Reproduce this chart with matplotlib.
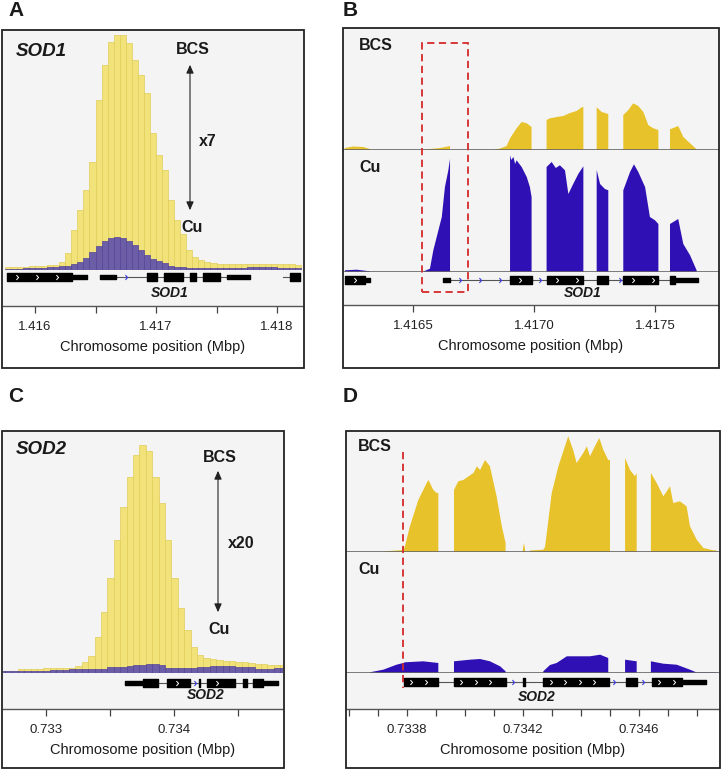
import numpy as np
import matplotlib
matplotlib.use('Agg')
import matplotlib.pyplot as plt
from matplotlib.patches import Rectangle, FancyArrowPatch
from matplotlib.path import Path
from matplotlib.ticker import MultipleLocator, FormatStrFormatter
from matplotlib.transforms import blended_transform_factory

plt.rcParams['font.family'] = ['Liberation Sans', 'DejaVu Sans']

W, H = 722, 776

# ---------------- data ----------------
bin_w = 0.00005  # 50 bp bins (Mbp)

# A: SOD1 locus, binned coverage
sod1_bin_start = 1.41575
sod1_bcs = [3, 3, 3, 3.5, 4, 4, 4.5, 5, 5.5, 8,
            17, 40, 60, 80, 108, 170, 205, 228, 235, 235,
            227, 210, 195, 177, 137, 115, 100, 70, 50, 36,
            20, 13, 10, 8, 7, 6.5, 6, 6, 6, 6,
            6, 6, 6.5, 6.5, 6, 6, 6.5, 6, 5.5]
sod1_cu = [1, 1.2, 1.5, 1.8, 2, 2.3, 2.5, 2.7, 3.2, 3.8,
           4.3, 6, 8, 11.7, 17.7, 24, 29, 32.5, 33, 32,
           29, 25, 20, 15, 11, 9, 6.7, 4, 3.3, 3,
           2.5, 2.5, 2.5, 2.5, 2.5, 2.5, 2.5, 2.5, 2.5, 2.5,
           2.7, 2.7, 2.7, 2.7, 2.7, 2.5, 2.5, 2.2, 2]

# C: SOD2 locus, binned coverage
sod2_bin_start = 0.73263
sod2_bcs = [2.3, 2.3, 2.3, 4, 4, 4, 4, 5, 5, 5,
            5, 5, 6.7, 10.7, 17, 36, 61, 95, 133, 166,
            196, 218, 228, 222, 196, 170, 133, 95, 65, 43,
            26, 18, 15, 14, 13, 12, 12, 11, 11, 10,
            9, 9, 8, 8, 8]
sod2_cu = [1.7, 1.7, 1.7, 2.3, 2.3, 2.3, 2.3, 2.3, 3.3, 3.3,
           3.3, 4, 4, 4, 4, 4, 4, 6, 6, 6,
           7, 8.5, 8.5, 9.5, 9, 8, 5, 5, 5, 5,
           5.5, 6.3, 6.3, 7, 7, 7, 7, 5.7, 5.7, 5.7,
           4, 4, 4, 5, 5]

# B: SOD1 read coverage, per covered segment (position Mbp, depth)
sod1_rna_bcs = [
    ([1.416219, 1.416253, 1.416295, 1.416322], [2, 3.5, 3, 1]),
    ([1.416543, 1.416570, 1.416612, 1.416653], [0.3, 1, 2, 4]),
    ([1.416832, 1.416860, 1.416887, 1.416901, 1.416928, 1.416949, 1.416970, 1.416990],
     [0.3, 1.5, 4, 11.7, 21.7, 28, 26.7, 23]),
    ([1.417052, 1.417066, 1.417094, 1.417121, 1.417149, 1.417176, 1.417197, 1.417204],
     [30, 31.7, 33, 34, 37, 39, 42.7, 43]),
    ([1.417259, 1.417280, 1.417307], [42.7, 38, 36]),
    ([1.417369, 1.417390, 1.417410, 1.417431, 1.417452, 1.417472, 1.417493, 1.417514],
     [35, 40, 46.7, 44, 38, 25, 21.7, 20]),
    ([1.417562, 1.417596, 1.417617, 1.417645, 1.417672], [20.7, 24, 13, 6.7, 0.7]),
]
sod1_rna_cu = [
    ([1.416219, 1.416267, 1.416322], [1.7, 2.3, 0.7]),
    ([1.416543, 1.416570, 1.416584, 1.416598, 1.416619, 1.416632, 1.416646, 1.416653],
     [0.5, 3.3, 21.7, 35, 55, 85, 101.7, 113]),
    ([1.416901, 1.416906, 1.416915, 1.416922, 1.416928, 1.416949, 1.416970, 1.416983, 1.416990],
     [116.7, 112, 115, 108, 111.7, 105, 95, 85, 75]),
    ([1.417052, 1.417073, 1.417090, 1.417107, 1.417128, 1.417142, 1.417162, 1.417183, 1.417204],
     [105, 110, 104, 106.7, 101.7, 78, 88, 98, 105.7]),
    ([1.417259, 1.417273, 1.417293, 1.417307], [102, 88, 83, 81.7]),
    ([1.417369, 1.417397, 1.417413, 1.417431, 1.417459, 1.417479, 1.417500, 1.417514],
     [81.7, 100, 107.7, 100, 85, 55, 51.7, 48]),
    ([1.417562, 1.417596, 1.417617, 1.417645, 1.417672], [48, 53, 28, 16.7, 1.7]),
]

# D: SOD2 read coverage
sod2_rna_bcs = [
    ([0.733718, 0.733764, 0.733787, 0.733793, 0.733810, 0.733839, 0.733868, 0.733874,
      0.733891, 0.733902, 0.733908],
     [0.5, 1.5, 2, 5.7, 25.7, 52, 69, 72, 62, 59, 59]),
    ([0.733962, 0.733977, 0.733994, 0.734029, 0.734041, 0.734052, 0.734069, 0.734086,
      0.734109, 0.734127, 0.734140],
     [62, 70.7, 72, 79, 85.7, 82, 92, 85.7, 55.7, 25.7, 9]),
    ([0.734199, 0.734203, 0.734207], [1, 9, 3]),
    ([0.734224, 0.734270, 0.734276, 0.734282, 0.734299, 0.734322, 0.734356, 0.734373,
      0.734385, 0.734408, 0.734420, 0.734431, 0.734448, 0.734463, 0.734477, 0.734494, 0.734500],
     [1.5, 2.3, 5, 19, 59, 85.7, 115.7, 102, 89, 99, 105.7, 95.7, 105.7, 114, 102, 92, 92]),
    ([0.734552, 0.734569, 0.734586, 0.734592], [94, 82, 75.7, 79]),
    ([0.734641, 0.734661, 0.734684, 0.734707, 0.734718, 0.734741, 0.734764, 0.734776,
      0.734799, 0.734822, 0.734856, 0.734867],
     [79, 69, 55.7, 65.7, 49, 50.7, 45.7, 25.7, 12.3, 4, 1.7, 1.7]),
]
sod2_rna_cu = [
    ([0.733672, 0.733718, 0.733764, 0.733787, 0.733793, 0.733856, 0.733908],
     [0.7, 3.3, 8.3, 10, 10.7, 11.7, 10]),
    ([0.733962, 0.734017, 0.734052, 0.734086, 0.734121, 0.734140],
     [11.7, 13.3, 14, 11.7, 6.7, 1.7]),
    ([0.734270, 0.734293, 0.734316, 0.734351, 0.734385, 0.734431, 0.734466, 0.734494],
     [1.7, 8, 10, 16.7, 16.7, 16.7, 18.3, 15]),
    ([0.734552, 0.734592], [13.3, 11.7]),
    ([0.734641, 0.734684, 0.734730, 0.734776, 0.734799, 0.734867],
     [11.7, 9.3, 8.3, 3.3, 0.5, 0.5]),
]

# gene models (start, end) in Mbp
sod1_wide_thick = [(1.415769, 1.416306), (1.416926, 1.417008), (1.417066, 1.417223),
                   (1.417281, 1.417331), (1.417388, 1.417529), (1.418107, 1.418190)]
sod1_wide_thin = [(1.416306, 1.416430), (1.416537, 1.416669), (1.417587, 1.417777)]
sod1_wide_lines = [(1.416669, 1.417587), (1.418050, 1.418190)]

sod1_thick = [(1.416219, 1.416302), (1.416901, 1.416990), (1.417052, 1.417204),
              (1.417259, 1.417307), (1.417369, 1.417514), (1.417562, 1.417583)]
sod1_thin = [(1.416302, 1.416322), (1.416626, 1.416653), (1.417583, 1.417679)]
sod1_lines = [(1.416653, 1.417562)]

sod2_wide_thick = [(0.733758, 0.733875), (0.733945, 0.734125), (0.734192, 0.734200),
                   (0.734258, 0.734477), (0.734539, 0.734570), (0.734617, 0.734695)]
sod2_wide_thin = [(0.733617, 0.733758), (0.734695, 0.734813)]
sod2_wide_lines = [(0.733617, 0.734813)]

sod2_thick = [(0.733789, 0.733908), (0.733962, 0.734140), (0.734199, 0.734207),
              (0.734270, 0.734497), (0.734555, 0.734592), (0.734644, 0.734747)]
sod2_thin = [(0.734747, 0.734831)]
sod2_lines = [(0.733789, 0.734831)]

# ---------------- style ----------------
BG = '#f4f4f4'
YEL, YEL_E = '#f1e27a', '#e0cd58'
PUR, PUR_E = '#6c5ea6', '#54449a'
GOLD = '#e8c22a'
BLUE = '#2e10b4'
TXT = '#1a1a1a'

chev = Path([(-0.45, 1), (0.45, 0), (-0.45, -1)], [Path.MOVETO, Path.LINETO, Path.LINETO])

fig = plt.figure(figsize=(W / 100, H / 100), dpi=100)


def fx(x):
    return x / W


def fy(y):
    return 1 - y / H


def add_ax(x0, y0, x1, y1, **kw):
    return fig.add_axes([x0 / W, 1 - y1 / H, (x1 - x0) / W, (y1 - y0) / H], **kw)


def clean(ax, bottom_line=False):
    for s in ax.spines.values():
        s.set_visible(False)
    if bottom_line:
        ax.spines['bottom'].set_visible(True)
        ax.spines['bottom'].set_color('#666666')
        ax.spines['bottom'].set_linewidth(1.2)
    ax.tick_params(bottom=False, left=False, labelbottom=False, labelleft=False)


def box(x0, y0, x1, y1):
    fig.add_artist(Rectangle((fx(x0), fy(y1)), (x1 - x0) / W, (y1 - y0) / H,
                             transform=fig.transFigure, fill=False, lw=1.3, ec='#222222', zorder=20))


def draw_gene(ax, thick, thin, lines, y, ax_h, step, name, name_y, name_x):
    th, tn = 7.5 / ax_h, 4.5 / ax_h
    for s, e in lines:
        ax.plot([s, e], [y, y], color='#555555', lw=0.8, zorder=1)
    ax.broken_barh([(s, e - s) for s, e in thick], (y - th / 2, th), color='black', zorder=2)
    ax.broken_barh([(s, e - s) for s, e in thin], (y - tn / 2, tn), color='black', zorder=2)
    blocks = thick + thin
    for s, e in lines:
        pos = np.arange(s + step / 2, e - step / 4, step)
        pos = [p for p in pos if not any(bs - step * 0.15 < p < be + step * 0.15 for bs, be in blocks)]
        ax.plot(pos, [y] * len(pos), ls='', marker=chev, ms=3.5, mfc='none',
                mec='#3a3ae6', mew=0.8, zorder=3)
    for s, e in thick:
        if e - s > step:
            pos = np.arange(s + step / 2, e - step / 4, step)
            ax.plot(pos, [y] * len(pos), ls='', marker=chev, ms=3.5, mfc='none',
                    mec='white', mew=0.7, zorder=3)
    ax.set_ylim(0, 1)
    ax.text(name_x, name_y, name, ha='center', va='center', fontsize=10,
            fontweight='bold', fontstyle='italic', color=TXT)


def axis_style(ax, major, minor, fmt, offset=0.0):
    for s in ax.spines.values():
        s.set_visible(False)
    ax.spines['bottom'].set_visible(True)
    ax.spines['bottom'].set_color('#555555')
    ax.spines['bottom'].set_linewidth(1.0)
    ax.tick_params(left=False, labelleft=False)
    ax.xaxis.set_major_locator(MultipleLocator(major, offset=offset))
    ax.xaxis.set_major_formatter(FormatStrFormatter(fmt))
    if minor:
        ax.xaxis.set_minor_locator(MultipleLocator(minor))
    ax.tick_params(axis='x', which='both', direction='out', length=5, width=0.9,
                   color='#444444', labelsize=9.5, labelcolor='#222222', pad=6)
    ax.set_xlabel('Chromosome position (Mbp)', fontsize=10.5, color=TXT, labelpad=5)


def coverage(ax, segments, color):
    for xs, ys in segments:
        ax.fill([xs[0]] + list(xs) + [xs[-1]], [0] + list(ys) + [0], color=color, lw=0)


# ---------------- panel A ----------------
xlim_a = (1.416 + (3 - 35) / 121000, 1.416 + (303 - 35) / 121000)
ax = add_ax(3, 31, 303, 270, facecolor=BG)
clean(ax)
edges = sod1_bin_start + bin_w * np.arange(len(sod1_bcs))
ax.bar(edges, sod1_bcs, width=bin_w, align='edge', color=YEL, edgecolor=YEL_E, lw=0.5)
ax.bar(edges, sod1_cu, width=bin_w, align='edge', color=PUR, edgecolor=PUR_E, lw=0.5)
ax.set_xlim(xlim_a)
ax.set_ylim(0, 239)
gx = add_ax(3, 270, 303, 306, facecolor=BG, sharex=ax)
draw_gene(gx, sod1_wide_thick, sod1_wide_thin, sod1_wide_lines, 0.80, 36, 0.000165,
          'SOD1', 0.36, 1.41711)
axis_style(gx, 0.001, 0.0005, '%.3f')
gx.set_xlim(xlim_a)
box(2, 30, 304, 368)

fig.text(fx(16), fy(51), 'SOD1', fontsize=13.5, fontweight='bold', fontstyle='italic',
         ha='left', va='center', color=TXT)
fig.text(fx(193), fy(49), 'BCS', fontsize=11.5, fontweight='bold', ha='center', va='center', color=TXT)
fig.text(fx(208), fy(141), 'x7', fontsize=11.5, fontweight='bold', ha='center', va='center', color=TXT)
fig.text(fx(192), fy(228), 'Cu', fontsize=11.5, fontweight='bold', ha='center', va='center', color=TXT)
fig.add_artist(FancyArrowPatch((fx(190), fy(62)), (fx(190), fy(213)), transform=fig.transFigure,
                               arrowstyle='<|-|>,head_length=0.5,head_width=0.22',
                               mutation_scale=10, lw=0.8, color='#222222', zorder=15))

# ---------------- panel B ----------------
xlim_b = (1.4165 + (344 - 413) / 242000, 1.4165 + (718 - 413) / 242000)
tb = add_ax(344, 29, 718, 150, facecolor=BG)
clean(tb, bottom_line=True)
coverage(tb, sod1_rna_bcs, GOLD)
tb.set_ylim(0, 121)
tc = add_ax(344, 150, 718, 272, facecolor=BG, sharex=tb)
clean(tc, bottom_line=True)
coverage(tc, sod1_rna_cu, BLUE)
tc.set_ylim(0, 122)
gx = add_ax(344, 272, 718, 305, facecolor=BG, sharex=tb)
draw_gene(gx, sod1_thick, sod1_thin, sod1_lines, 0.76, 33, 0.0000826,
          'SOD1', 0.36, 1.4172)
axis_style(gx, 0.0005, None, '%.4f')
gx.set_xlim(xlim_b)
box(343, 28, 719, 368)
fig.text(fx(359), fy(46), 'BCS', fontsize=11.5, fontweight='bold', ha='left', va='center', color=TXT)
fig.text(fx(359), fy(167), 'Cu', fontsize=11.5, fontweight='bold', ha='left', va='center', color=TXT)
tr = blended_transform_factory(gx.transData, fig.transFigure)
fig.add_artist(Rectangle((1.416537, fy(292)), 1.416727 - 1.416537, (292 - 43) / H,
                         transform=tr, fill=False, ec='#d42a2a', lw=1.3,
                         ls=(0, (4, 2.5)), zorder=18))

# ---------------- panel C ----------------
xlim_c = (0.733 + (3 - 46) / 128000, 0.733 + (283 - 46) / 128000)
ax = add_ax(3, 432, 283, 673, facecolor=BG)
clean(ax)
edges = sod2_bin_start + bin_w * np.arange(len(sod2_bcs))
ax.bar(edges, sod2_bcs, width=bin_w, align='edge', color=YEL, edgecolor=YEL_E, lw=0.5)
ax.bar(edges, sod2_cu, width=bin_w, align='edge', color=PUR, edgecolor=PUR_E, lw=0.5)
ax.set_xlim(xlim_c)
ax.set_ylim(0, 241)
gx = add_ax(3, 673, 283, 709, facecolor=BG, sharex=ax)
draw_gene(gx, sod2_wide_thick, sod2_wide_thin, sod2_wide_lines, 0.72, 36, 0.000156,
          'SOD2', 0.40, 0.734245)
axis_style(gx, 0.001, 0.0005, '%.3f')
gx.set_xlim(xlim_c)
box(2, 431, 284, 768)

fig.text(fx(16), fy(449), 'SOD2', fontsize=13.5, fontweight='bold', fontstyle='italic',
         ha='left', va='center', color=TXT)
fig.text(fx(220), fy(457), 'BCS', fontsize=11.5, fontweight='bold', ha='center', va='center', color=TXT)
fig.text(fx(241), fy(543), 'x20', fontsize=11.5, fontweight='bold', ha='center', va='center', color=TXT)
fig.text(fx(219), fy(629), 'Cu', fontsize=11.5, fontweight='bold', ha='center', va='center', color=TXT)
fig.add_artist(FancyArrowPatch((fx(218), fy(468)), (fx(218), fy(615)), transform=fig.transFigure,
                               arrowstyle='<|-|>,head_length=0.5,head_width=0.22',
                               mutation_scale=10, lw=0.8, color='#222222', zorder=15))

# ---------------- panel D ----------------
xlim_d = (0.7338 + (347 - 407) / 290000, 0.7338 + (719 - 407) / 290000)
tb = add_ax(347, 432, 719, 552, facecolor=BG)
clean(tb, bottom_line=True)
coverage(tb, sod2_rna_bcs, GOLD)
tb.set_ylim(0, 120)
tc = add_ax(347, 552, 719, 673, facecolor=BG, sharex=tb)
clean(tc, bottom_line=True)
coverage(tc, sod2_rna_cu, BLUE)
tc.set_ylim(0, 121)
gx = add_ax(347, 673, 719, 709, facecolor=BG, sharex=tb)
draw_gene(gx, sod2_thick, sod2_thin, sod2_lines, 0.75, 36, 0.00005,
          'SOD2', 0.33, 0.734247)
axis_style(gx, 0.0004, 0.0001, '%.4f', offset=0.0002)
gx.set_xlim(xlim_d)
box(346, 431, 720, 768)
fig.text(fx(358), fy(447), 'BCS', fontsize=11.5, fontweight='bold', ha='left', va='center', color=TXT)
fig.text(fx(358), fy(569), 'Cu', fontsize=11.5, fontweight='bold', ha='left', va='center', color=TXT)
tr = blended_transform_factory(gx.transData, fig.transFigure)
fig.add_artist(plt.Line2D([0.733786, 0.733786], [fy(452), fy(688)], transform=tr,
                          color='#d42a2a', lw=1.3, ls=(0, (4, 2.5)), zorder=18))

# panel letters
for letter, x, y in [('A', 8, 10), ('B', 343, 10), ('C', 8, 397), ('D', 343, 397)]:
    fig.text(fx(x), fy(y), letter, fontsize=15, fontweight='bold', ha='left', va='center', color=TXT)

fig.savefig('out.png', dpi=100, facecolor='white')
